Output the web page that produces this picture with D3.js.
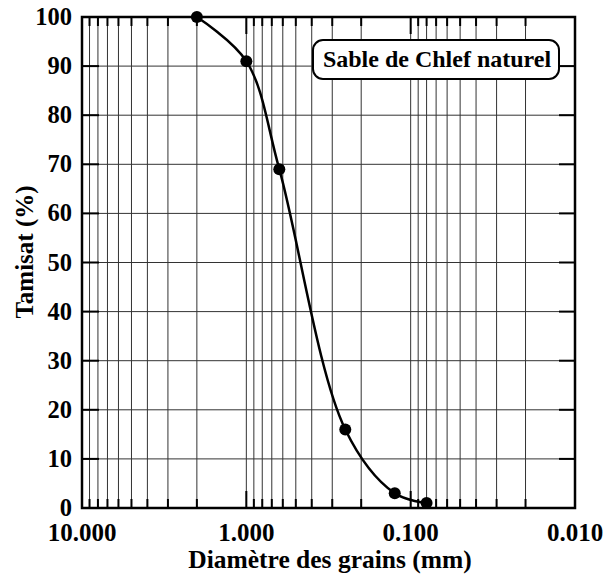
<!DOCTYPE html>
<html lang="fr">
<head>
  <meta charset="UTF-8">
  <title>Sable de Chlef naturel</title>
  <style>
    body { margin: 0; background: #fff; }
    text { font-family: 'Liberation Serif', 'Times New Roman', serif; font-weight: bold; fill: #000; }
  </style>
</head>
<body>
  <svg width="603" height="575"></svg>

  <script src="https://d3js.org/d3.v7.min.js"></script>
  <script>
  // données granulométriques
  const diametres = [2.0, 1.0, 0.63, 0.25, 0.125, 0.08];
  const tamisats = [100, 91, 69, 16, 3, 1];
  const xTickValues = [10, 1, 0.1, 0.01];
  const yTickValues = [0, 10, 20, 30, 40, 50, 60, 70, 80, 90, 100];

  const plotLeft = 82, plotRight = 575, plotTop = 17, plotBottom = 508;

  const x = d3.scaleLog().domain([10, 0.01]).range([plotLeft, plotRight]);
  const y = d3.scaleLinear().domain([0, 100]).range([plotBottom, plotTop]);

  const svg = d3.select("svg");

  // toutes les valeurs 1..9 x 10^k
  const minor = [];
  [1, 0.1, 0.01].forEach(p => { for (let m = 1; m <= 9; m++) minor.push(m * p); });
  minor.push(10);

  const grid = svg.append("g").attr("stroke", "#333").attr("stroke-width", 1);
  grid.selectAll(".vx").data(minor).enter().append("line")
    .attr("x1", d => x(d)).attr("x2", d => x(d))
    .attr("y1", plotTop).attr("y2", plotBottom);
  grid.selectAll(".hy").data(yTickValues).enter().append("line")
    .attr("x1", plotLeft).attr("x2", plotRight)
    .attr("y1", d => y(d)).attr("y2", d => y(d));

  // graduations
  const isMajor = d => xTickValues.some(v => Math.abs(v - d) < 1e-9);
  const ticks = svg.append("g").attr("stroke", "#000").attr("stroke-width", 2);
  ticks.selectAll(".tb").data(minor).enter().append("line")
    .attr("x1", d => x(d)).attr("x2", d => x(d))
    .attr("y1", plotBottom).attr("y2", d => plotBottom - (isMajor(d) ? 17 : 9));
  ticks.selectAll(".tt").data(minor).enter().append("line")
    .attr("x1", d => x(d)).attr("x2", d => x(d))
    .attr("y1", plotTop).attr("y2", d => plotTop + (isMajor(d) ? 17 : 9));
  ticks.selectAll(".tl").data(yTickValues).enter().append("line")
    .attr("x1", plotLeft).attr("x2", plotLeft + 17)
    .attr("y1", d => y(d)).attr("y2", d => y(d));
  ticks.selectAll(".tr").data(yTickValues).enter().append("line")
    .attr("x1", plotRight).attr("x2", plotRight - 16)
    .attr("y1", d => y(d)).attr("y2", d => y(d));

  svg.append("rect")
    .attr("x", plotLeft).attr("y", plotTop)
    .attr("width", plotRight - plotLeft).attr("height", plotBottom - plotTop)
    .attr("fill", "none").attr("stroke", "#000").attr("stroke-width", 2.5);

  // étiquettes
  svg.selectAll(".ly").data(yTickValues).enter().append("text")
    .attr("x", 72).attr("y", d => y(d)).attr("dy", "0.33em")
    .attr("text-anchor", "end").attr("font-size", 24.5)
    .text(d => d);
  svg.selectAll(".lx").data(xTickValues).enter().append("text")
    .attr("x", d => x(d)).attr("y", 541)
    .attr("text-anchor", "middle").attr("font-size", 25)
    .text(d => d.toFixed(3));

  svg.append("text")
    .attr("x", 330).attr("y", 568)
    .attr("text-anchor", "middle").attr("font-size", 25.5)
    .text("Diamètre des grains (mm)");
  svg.append("text")
    .attr("transform", "translate(33,252) rotate(-90)")
    .attr("text-anchor", "middle").attr("font-size", 25)
    .text("Tamisat (%)");

  // courbe
  const pts = diametres.map((d, i) => [x(d), y(tamisats[i])]);
  svg.append("path")
    .attr("d", d3.line().curve(d3.curveCatmullRom.alpha(0.5))(pts))
    .attr("fill", "none").attr("stroke", "#000").attr("stroke-width", 2.5);
  svg.selectAll(".pt").data(pts).enter().append("circle")
    .attr("cx", d => d[0]).attr("cy", d => d[1]).attr("r", 6)
    .attr("fill", "#000");

  // légende
  const lg = svg.append("g");
  lg.append("rect")
    .attr("x", 313).attr("y", 40).attr("width", 246).attr("height", 39)
    .attr("rx", 10).attr("fill", "#fff").attr("stroke", "#000").attr("stroke-width", 2);
  lg.append("text")
    .attr("x", 437).attr("y", 67).attr("text-anchor", "middle").attr("font-size", 24)
    .text("Sable de Chlef naturel");
  </script>
</body>
</html>
